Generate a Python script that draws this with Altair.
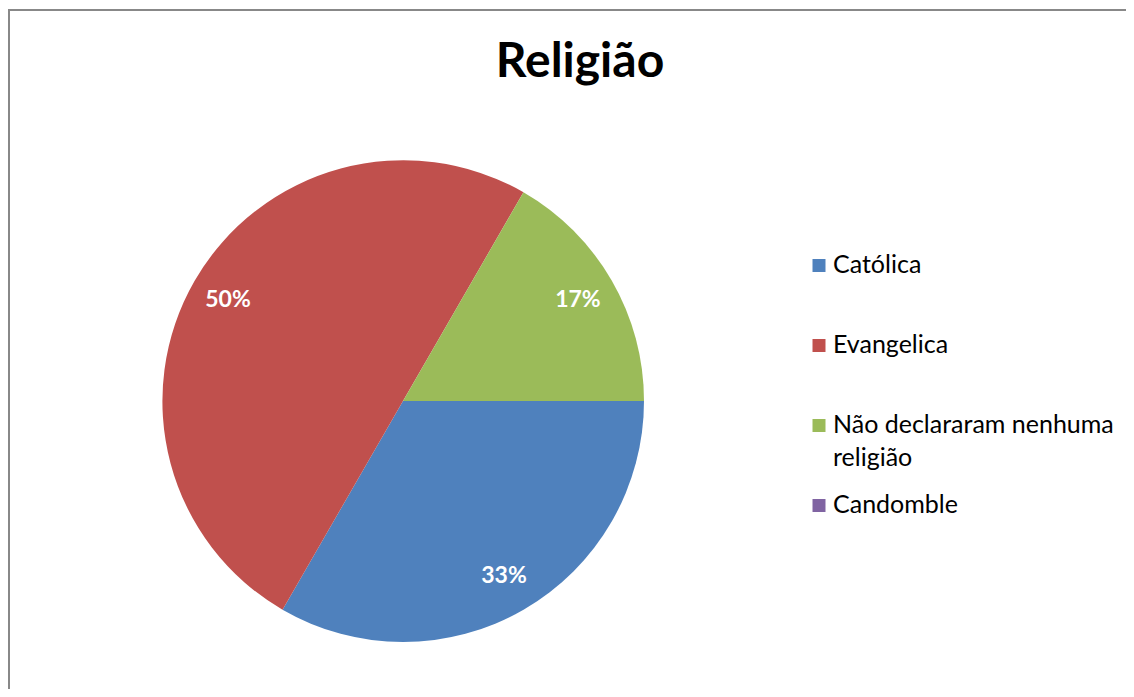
import math
import altair as alt
import pandas as pd

categories = ["Católica", "Evangelica", "Não declararam nenhuma religião", "Candomble"]
legend_labels = ["Católica", "Evangelica", "Não declararam nenhuma\nreligião", "Candomble"]
values = [33.33, 50.0, 16.67, 0.0]
colors = ["#4F81BD", "#C0504D", "#9BBB59", "#8064A2"]
title_text = "Religião"

df = pd.DataFrame({
    "cat": categories,
    "legend": legend_labels,
    "value": values,
    "idx": list(range(len(categories))),
})

W, H = 1118, 681
CX, CY, R = 395, 393, 241
FONT = "Lato"

color = alt.Color("cat:N", scale=alt.Scale(domain=categories, range=colors), legend=None)
theta = alt.Theta("value:Q", stack=True,
                  scale=alt.Scale(range=[math.pi / 2, math.pi / 2 + 2 * math.pi], nice=False))
order = alt.Order("idx:Q")

base = alt.Chart(df)

pie = base.mark_arc(radius=R).encode(
    theta=theta, color=color, order=order,
    x=alt.value(CX), y=alt.value(CY),
)

labels = base.transform_joinaggregate(total="sum(value)").transform_calculate(
    pct="format(datum.value / datum.total, '.0%')"
).mark_text(radius=202, font=FONT, fontSize=23, fontWeight="bold", color="white",
            align="center", baseline="middle").encode(
    theta=theta, order=order, text=alt.Text("pct:N"),
    x=alt.value(CX), y=alt.value(CY),
).transform_filter("datum.value > 0")

ypos = alt.Y("cat:N", scale=alt.Scale(type="point", domain=categories,
                                      range=[257.5, 497.5], padding=0), axis=None)

leg_sq = base.mark_square(size=169, opacity=1).encode(
    x=alt.value(811), y=ypos, color=color,
)
leg_txt = base.mark_text(font=FONT, fontSize=25, align="left", baseline="alphabetic",
                         dy=7, lineBreak="\n", lineHeight=33, color="#000000").encode(
    x=alt.value(825), y=ypos, text="legend:N",
)

title = alt.Chart(pd.DataFrame({"t": [title_text]})).mark_text(
    font=FONT, fontSize=48, fontWeight="bold", color="#000000",
    align="center", baseline="alphabetic").encode(
    x=alt.value(572), y=alt.value(69), text="t:N",
)

border_left = alt.Chart(pd.DataFrame({"t": [0]})).mark_rule(color="#888888", strokeWidth=2).encode(
    x=alt.value(1), y=alt.value(2), y2=alt.value(H),
)
border_top = alt.Chart(pd.DataFrame({"t": [0]})).mark_rule(color="#888888", strokeWidth=2).encode(
    x=alt.value(0), x2=alt.value(W), y=alt.value(2),
)

chart = alt.layer(pie, labels, leg_sq, leg_txt, title, border_left, border_top).properties(
    width=W, height=H,
    autosize=alt.AutoSizeParams(type="none"),
    padding=0,
    background="white",
).configure_view(stroke=None)

chart.save("out.html", embed_options={"renderer": "svg", "actions": False})
